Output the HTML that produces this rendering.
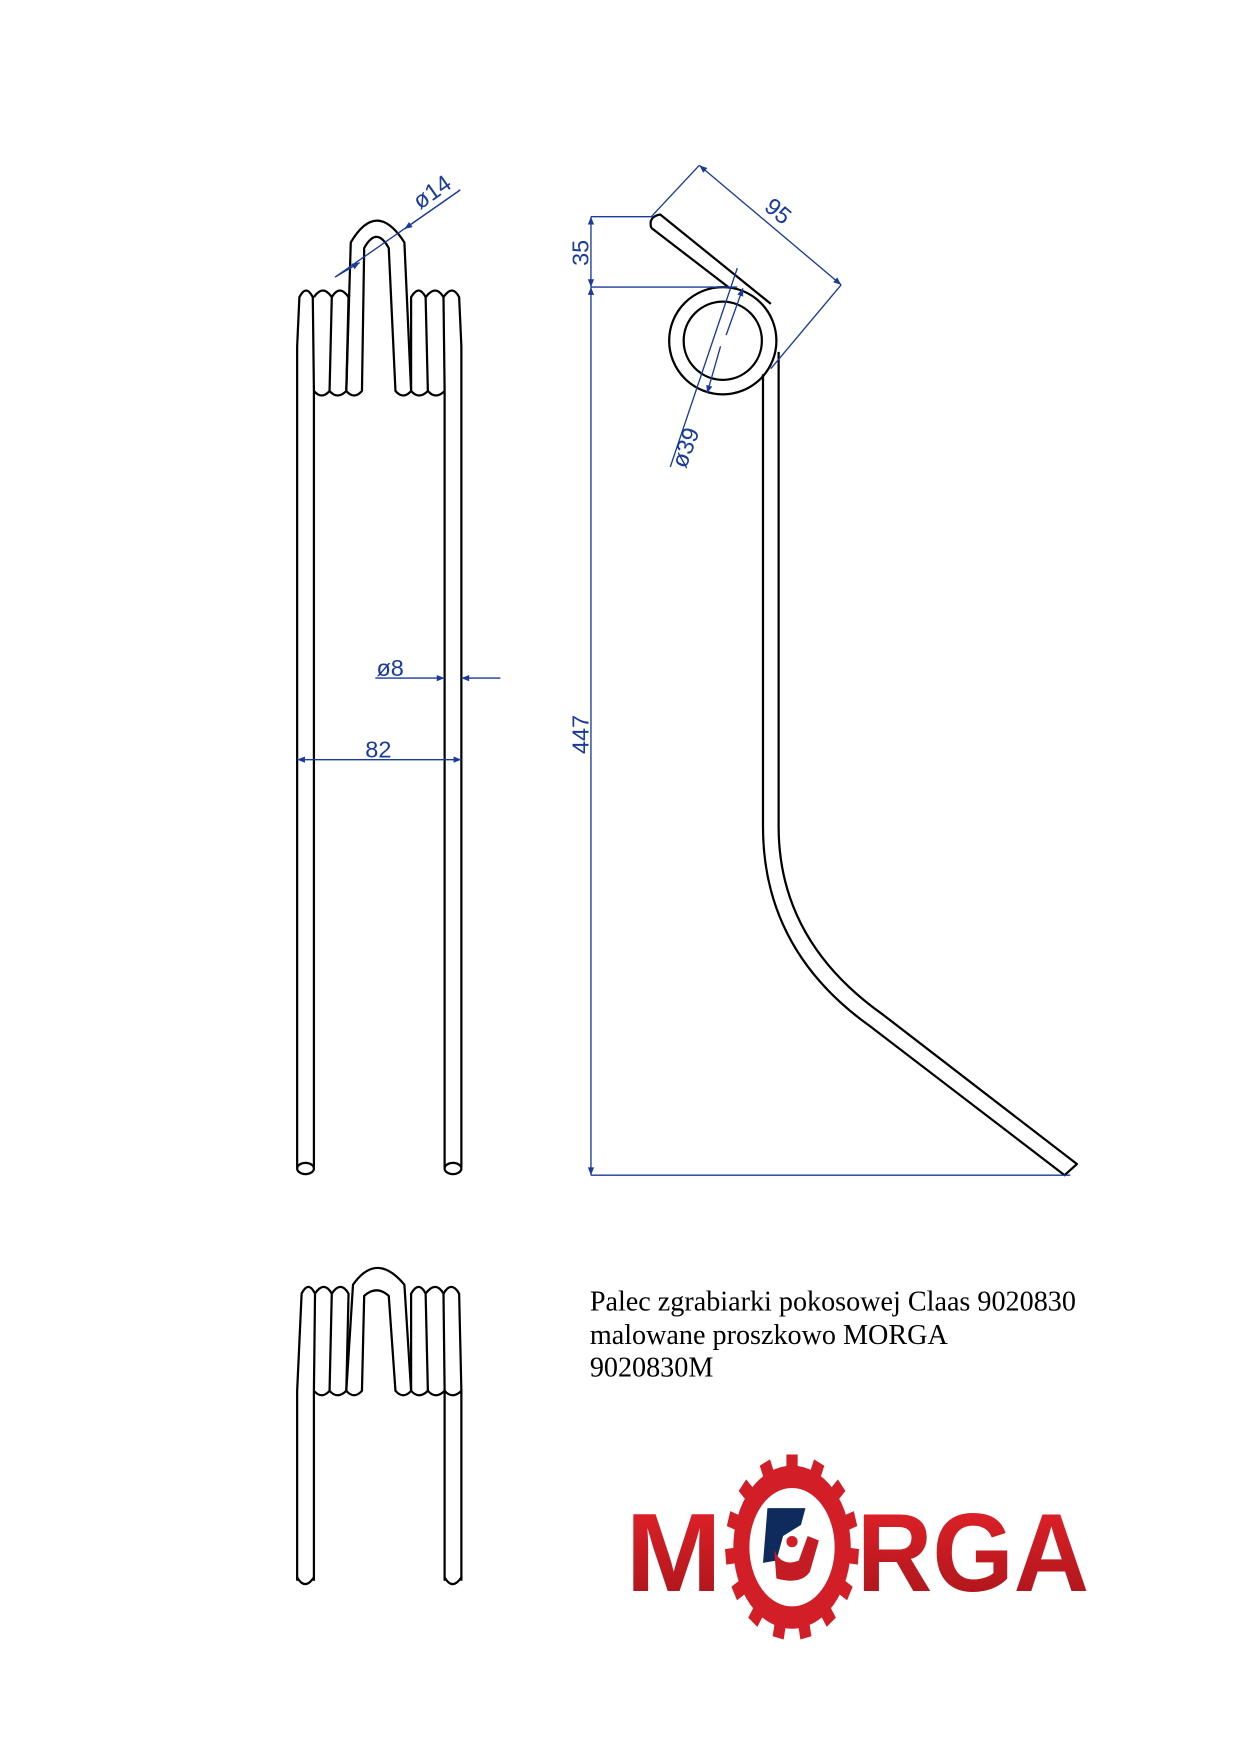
<!DOCTYPE html>
<html><head><meta charset="utf-8"><style>html,body{margin:0;padding:0;background:#fff}svg{display:block}</style></head>
<body>
<svg width="1240" height="1755" viewBox="0 0 1110 1571" preserveAspectRatio="none" xmlns="http://www.w3.org/2000/svg">
<defs>
<marker id="a" viewBox="0 0 10 10" refX="10" refY="5" markerWidth="18" markerHeight="7" markerUnits="userSpaceOnUse" orient="auto-start-reverse"><path d="M0,1 L10,5 L0,9 Z" fill="#1a3a9c"/></marker>
<linearGradient id="rg" x1="0" y1="0" x2="0" y2="1"><stop offset="0" stop-color="#e8232a"/><stop offset="1" stop-color="#a5141a"/></linearGradient>
</defs>
<rect width="1110" height="1571" fill="#fff"/>
<g fill="none" stroke="#000" stroke-width="2" stroke-linejoin="round">
<path d="M266,1045 L266,310 L268,266 Q274,254 280,266 L281,350 M281,1045 L281,350"/>
<path d="M281,350 Q288,358 295,350 L297,266 Q289,254 281,266 M295,350 Q302,358 310,350 L312,266 Q304,254 297,266"/>
<path d="M310,350 Q317,358 324,350 L326,222 Q337,202 348,222 L354,350 Q361,358 368,350 L362,217 Q337,178 314,217 L310,350"/>
<path d="M368,350 Q375,358 383,350 L381,266 Q375,254 368,266 L368,350 M383,350 Q390,358 398,350 L397,266 Q390,254 381,266 M398,350 L398,1045 M413,1045 L413,310 L411,266 Q405,254 397,266"/>
<ellipse cx="273.5" cy="1046" rx="7.5" ry="5"/><ellipse cx="405.5" cy="1046" rx="7.5" ry="5"/>
<path d="M266,1415 L266,1245 L270,1158 Q276,1146 282,1158 L281,1245 M281,1415 L281,1245 Q288,1253 295,1245 L297,1158 Q290,1146 282,1158 M295,1245 Q302,1253 310,1245 L312,1158 Q305,1146 297,1158"/>
<path d="M310,1245 Q317,1253 324,1245 L326,1160 Q337,1150 348,1160 L354,1245 Q361,1253 368,1245 L362,1150 Q337,1120 316,1150 L310,1245"/>
<path d="M368,1245 Q375,1253 383,1245 L381,1158 Q375,1146 368,1158 L368,1245 M383,1245 Q390,1253 398,1245 L397,1158 Q390,1146 381,1158 M398,1245 Q405,1253 413,1245 L411,1158 Q404,1146 397,1158 M398,1245 L398,1415 M413,1245 L413,1415"/>
<path d="M266,1412 Q273,1424 281,1412 M398,1412 Q405,1424 413,1412"/>
<circle cx="647" cy="305" r="48"/><circle cx="647" cy="305" r="35"/>
<path d="M583,204 Q580,194 591,192 L690,272 M583,204 L652,257"/>
<path d="M683,335 L683,740 Q683,850 778,918 L953,1052 L964,1042 L790,908 Q697,842 697,740 L697,315"/>
</g>
<g stroke="#1a3a9c" stroke-width="1.2" fill="none">
<line x1="300" y1="248" x2="412" y2="170"/>
<line x1="300" y1="248" x2="322" y2="235" marker-end="url(#a)"/>
<line x1="412" y1="170" x2="362" y2="205" marker-end="url(#a)"/>
<line x1="336" y1="607" x2="398" y2="607" marker-end="url(#a)"/>
<line x1="448" y1="607" x2="413" y2="607" marker-end="url(#a)"/>
<line x1="266" y1="680" x2="413" y2="680" marker-start="url(#a)" marker-end="url(#a)"/>
<line x1="529" y1="194" x2="585" y2="194"/><line x1="529" y1="257" x2="660" y2="257"/><line x1="529" y1="1052" x2="958" y2="1052"/>
<line x1="529" y1="194" x2="529" y2="257" marker-start="url(#a)" marker-end="url(#a)"/>
<line x1="529" y1="257" x2="529" y2="1052" marker-start="url(#a)" marker-end="url(#a)"/>
<line x1="583" y1="194" x2="626" y2="148"/><line x1="753" y1="255" x2="690" y2="330"/>
<line x1="626" y1="148" x2="753" y2="255" marker-start="url(#a)" marker-end="url(#a)"/>
<line x1="660" y1="240" x2="600" y2="418"/>
<line x1="650" y1="300" x2="665" y2="258" marker-end="url(#a)"/>
<line x1="645" y1="310" x2="633" y2="352" marker-end="url(#a)"/>
</g>
<g fill="#1a3a9c" font-family="Liberation Sans, sans-serif" font-size="21">
<text x="376" y="188" transform="rotate(-35 376 188)">ø14</text>
<text x="337" y="605">ø8</text>
<text x="327" y="678">82</text>
<text x="527" y="238" transform="rotate(-90 527 238)">35</text>
<text x="527" y="675" transform="rotate(-90 527 675)">447</text>
<text x="683" y="187" transform="rotate(40 683 187)">95</text>
<text x="614" y="420" transform="rotate(-70 614 420)">ø39</text>
</g>
<g font-family="Liberation Serif, serif" font-size="25.2" fill="#000">
<text x="528" y="1173">Palec zgrabiarki pokosowej Claas 9020830</text>
<text x="528" y="1203">malowane proszkowo MORGA</text>
<text x="528" y="1232">9020830M</text>
</g>
<g fill="url(#rg)" font-family="Liberation Sans, sans-serif" font-weight="bold" font-size="100">
<text x="560" y="1424" textLength="86" lengthAdjust="spacingAndGlyphs">M</text>
<text x="767" y="1424" textLength="208" lengthAdjust="spacingAndGlyphs">RGA</text>
</g>
<g transform="translate(709,1385) scale(0.72,1)">
<circle r="63" fill="none" stroke="#d21f27" stroke-width="20"/>
<g fill="#d21f27">
<rect x="-7" y="-83" width="14" height="14"/><rect x="-7" y="-83" width="14" height="14" transform="rotate(24)"/><rect x="-7" y="-83" width="14" height="14" transform="rotate(48)"/><rect x="-7" y="-83" width="14" height="14" transform="rotate(72)"/><rect x="-7" y="-83" width="14" height="14" transform="rotate(96)"/><rect x="-7" y="-83" width="14" height="14" transform="rotate(120)"/><rect x="-7" y="-83" width="14" height="14" transform="rotate(144)"/><rect x="-7" y="-83" width="14" height="14" transform="rotate(168)"/><rect x="-7" y="-83" width="14" height="14" transform="rotate(192)"/><rect x="-7" y="-83" width="14" height="14" transform="rotate(216)"/><rect x="-7" y="-83" width="14" height="14" transform="rotate(240)"/><rect x="-7" y="-83" width="14" height="14" transform="rotate(264)"/><rect x="-7" y="-83" width="14" height="14" transform="rotate(288)"/><rect x="-7" y="-83" width="14" height="14" transform="rotate(312)"/><rect x="-7" y="-83" width="14" height="14" transform="rotate(336)"/>
</g>
</g>
<g transform="translate(709,1385)">
<path d="M-22,-35 L12,-35 L8,-20 L-8,-10 L-14,12 L-26,14 Z" fill="#0f2a5c"/>
<circle cx="0" cy="-5" r="5" fill="#d21f27"/>
<path d="M-16,2 Q-10,18 6,12 L14,-10 L24,-6 L16,22 Q8,34 -14,28 Z" fill="#c41c24"/>
</g>
</svg>
</body></html>
